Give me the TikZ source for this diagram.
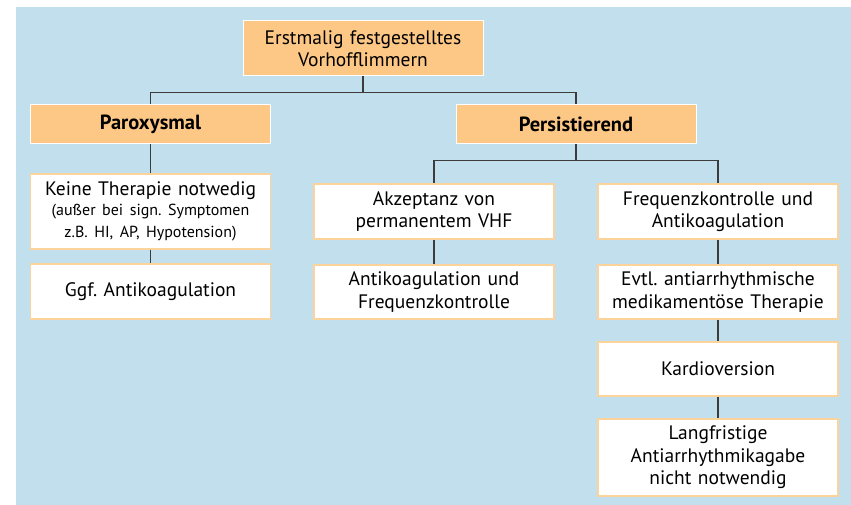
\documentclass[tikz,border=0pt]{standalone}
\usepackage{fontspec}
\setmainfont{PT Sans}
\usetikzlibrary{calc}
\usetikzlibrary{positioning}
\frenchspacing
\definecolor{bgblue}{HTML}{C2DFEE}
\definecolor{boxorange}{HTML}{FDC785}
\definecolor{rimorange}{HTML}{FCD49B}
\definecolor{linegray}{HTML}{3C3C3C}
\newcommand{\smalltxt}{\fontsize{16}{20}\selectfont}
\tikzstyle{headnode} = [draw=white, line width=1pt, fill=boxorange, minimum width=240pt, text width=232pt, inner sep=0pt, align=center, font=\fontsize{19.5}{22}\selectfont]
\tikzstyle{stepnode} = [draw=rimorange, line width=1.2pt, fill=white, minimum width=240pt, minimum height=55pt, text width=232pt, inner sep=0pt, align=center, font=\fontsize{19.5}{22.5}\selectfont]
\tikzstyle{link} = [draw=linegray, line width=1.1pt]

\begin{document}
\begin{tikzpicture}[x=1pt, y=-1pt]
\useasboundingbox (0,0) rectangle (851,505);
\fill[white] (0,0) rectangle (851,505);
\fill[bgblue] (16,7) rectangle (851,505);

\node[headnode, minimum height=55pt] (first_af) at (363,48.5) {Erstmalig festgestelltes\\Vorhofflimmern};
\node[headnode, minimum height=39pt, font=\fontsize{20.5}{22}\selectfont\bfseries] (parox) at ($(first_af)+(-212.5,76)$) {Paroxysmal};
\node[headnode, minimum height=39pt, font=\fontsize{20.5}{22}\selectfont\bfseries] (persist) at ($(first_af)+(213,76)$) {Persistierend};

% paroxysmal branch
\node[stepnode, minimum height=75pt] (no_therapy) at ($(parox)+(0,87)$) {Keine Therapie notwedig\\\smalltxt (außer bei sign. Symptomen\\z.B. HI, AP, Hypotension)};
\node[stepnode] (opt_anticoag) at ($(no_therapy)+(0,80)$) {Ggf. Antikoagulation};

% persistent branch
\node[stepnode] (accept) at ($(persist)+(-142,87)$) {Akzeptanz von\\permanentem VHF};
\node[stepnode, minimum height=54pt] (anticoag_rate) at ($(accept)+(0,80.5)$) {Antikoagulation und\\Frequenzkontrolle};
\node[stepnode] (rate_anticoag) at ($(persist)+(142,87)$) {Frequenzkontrolle und\\Antikoagulation};
\node[stepnode, minimum height=54pt] (antiarrhythmic) at ($(rate_anticoag)+(0,80.5)$) {Evtl. antiarrhythmische\\medikamentöse Therapie};
\node[stepnode, minimum height=54pt] (cardioversion) at ($(antiarrhythmic)+(0,77)$) {Kardioversion};
\node[stepnode, minimum height=77pt] (longterm) at ($(cardioversion)+(0,88.5)$) {Langfristige\\Antiarrhythmikagabe\\nicht notwendig};

\coordinate (fork_top) at ($(first_af.south)+(0,16)$);
\coordinate (fork_persist) at ($(persist.south)+(0,16)$);
\draw[link] (first_af.south) -- (fork_top);
\draw[link] (fork_top) -| (parox.north);
\draw[link] (fork_top) -| (persist.north);
\draw[link] (persist.south) -- (fork_persist);
\draw[link] (fork_persist) -| (accept.north);
\draw[link] (fork_persist) -| (rate_anticoag.north);
\draw[link] (parox) -- (no_therapy);
\draw[link] (no_therapy) -- (opt_anticoag);
\draw[link] (accept) -- (anticoag_rate);
\draw[link] (rate_anticoag) -- (antiarrhythmic);
\draw[link] (antiarrhythmic) -- (cardioversion);
\draw[link] (cardioversion) -- (longterm);
\end{tikzpicture}
\end{document}
